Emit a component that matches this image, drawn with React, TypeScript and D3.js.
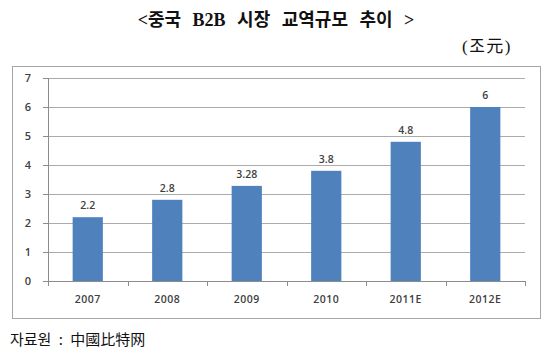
import * as d3 from "d3";
import React from "react";

const years = ["2007", "2008", "2009", "2010", "2011E", "2012E"];
const values = [2.2, 2.8, 3.28, 3.8, 4.8, 6];
const yTicks = [0, 1, 2, 3, 4, 5, 6, 7];

const W = 550;
const H = 353;
const margin = { top: 78, right: 25, bottom: 72, left: 48 };

const App: React.FC = () => {
  const svgRef = React.useRef<SVGSVGElement | null>(null);

  React.useEffect(() => {
    const width = W - margin.left - margin.right;
    const height = H - margin.top - margin.bottom;

    const x = d3.scaleBand<string>().domain(years).range([0, width]).paddingInner(0.62).paddingOuter(0.31);
    const xOuter = d3.scaleBand<string>().domain(years).range([0, width]);
    const y = d3.scaleLinear().domain([0, 7]).range([height, 0]);

    const svgEl = d3.select(svgRef.current);
    svgEl.selectAll("*").remove();

    // outer frame
    svgEl
      .append("rect")
      .attr("x", 12.5)
      .attr("y", 66.5)
      .attr("width", 528)
      .attr("height", 252)
      .attr("fill", "white")
      .attr("stroke", "#a6a6a6");

    const svg = svgEl.append("g").attr("transform", `translate(${margin.left},${margin.top})`);

    // gridlines
    svg
      .selectAll(".grid")
      .data(yTicks.filter((t) => t > 0))
      .join("line")
      .attr("x1", 0)
      .attr("x2", width)
      .attr("y1", (d) => Math.round(y(d)) + 0.5)
      .attr("y2", (d) => Math.round(y(d)) + 0.5)
      .attr("stroke", "#ababab");

    // Y axis
    const yAxis = svg
      .append("g")
      .call(d3.axisLeft(y).tickValues(yTicks).tickSize(5).tickPadding(12).tickFormat(d3.format("d")));
    yAxis.select(".domain").attr("stroke", "#8c8c8c").attr("d", `M0.5,${height}V0`);
    yAxis.selectAll("line").attr("stroke", "#8c8c8c");
    yAxis
      .selectAll("text")
      .attr("fill", "#404040")
      .attr("font-family", "Open Sans, sans-serif")
      .attr("font-weight", 600)
      .attr("font-size", "11px");

    // bars
    svg
      .selectAll(".bar")
      .data(values)
      .join("rect")
      .attr("x", (_, i) => x(years[i])!)
      .attr("width", x.bandwidth())
      .attr("y", (d) => y(d))
      .attr("height", (d) => height - y(d))
      .attr("fill", "#4f81bd");

    // value labels
    svg
      .selectAll(".val")
      .data(values)
      .join("text")
      .attr("x", (_, i) => x(years[i])! + x.bandwidth() / 2)
      .attr("y", (d) => y(d) - 8)
      .attr("text-anchor", "middle")
      .attr("fill", "#404040")
      .attr("font-family", "Open Sans, sans-serif")
      .attr("font-weight", 600)
      .attr("font-size", "10.5px")
      .text((d) => String(d));

    // X axis
    const xAxisGroup = svg.append("g").attr("transform", `translate(0,${height})`);
    xAxisGroup
      .append("line")
      .attr("x1", 0)
      .attr("x2", width)
      .attr("y1", 0.5)
      .attr("y2", 0.5)
      .attr("stroke", "#8c8c8c");
    xAxisGroup
      .selectAll(".tick")
      .data([...years.map((yr) => xOuter(yr)!), width])
      .join("line")
      .attr("x1", (d) => Math.round(d) + 0.5)
      .attr("x2", (d) => Math.round(d) + 0.5)
      .attr("y1", 0)
      .attr("y2", 5)
      .attr("stroke", "#8c8c8c");
    xAxisGroup
      .selectAll(".lbl")
      .data(years)
      .join("text")
      .attr("x", (d) => xOuter(d)! + xOuter.bandwidth() / 2)
      .attr("y", 22)
      .attr("text-anchor", "middle")
      .attr("fill", "#404040")
      .attr("font-family", "Open Sans, sans-serif")
      .attr("font-weight", 600)
      .attr("font-size", "10.5px")
      .attr("letter-spacing", "0.5px")
      .text((d) => d);

    // title & notes
    svgEl
      .append("text")
      .attr("x", 276)
      .attr("y", 26)
      .attr("text-anchor", "middle")
      .attr("font-family", "Liberation Serif, Noto Sans CJK KR")
      .attr("font-weight", "bold")
      .attr("font-size", "18px")
      .attr("fill", "#111")
      .attr("word-spacing", "7px")
      .text("<중국 B2B 시장 교역규모 추이 >");

    svgEl
      .append("text")
      .attr("x", 512)
      .attr("y", 52)
      .attr("text-anchor", "end")
      .attr("font-family", "Liberation Serif, Noto Sans CJK KR")
      .attr("font-size", "17px")
      .attr("letter-spacing", "1.5px")
      .attr("fill", "#111")
      .text("(조元)");

    svgEl
      .append("text")
      .attr("x", 10)
      .attr("y", 345)
      .attr("font-family", "Noto Sans CJK KR, sans-serif")
      .attr("font-size", "15px")
      .attr("word-spacing", "4px")
      .attr("fill", "#111")
      .text("자료원 : 中國比特网");
  }, []);

  return (
    <svg
      ref={svgRef}
      width={W}
      height={H}
      style={{ position: "absolute", left: 0, top: 0, background: "white" }}
    />
  );
};

export default App;
